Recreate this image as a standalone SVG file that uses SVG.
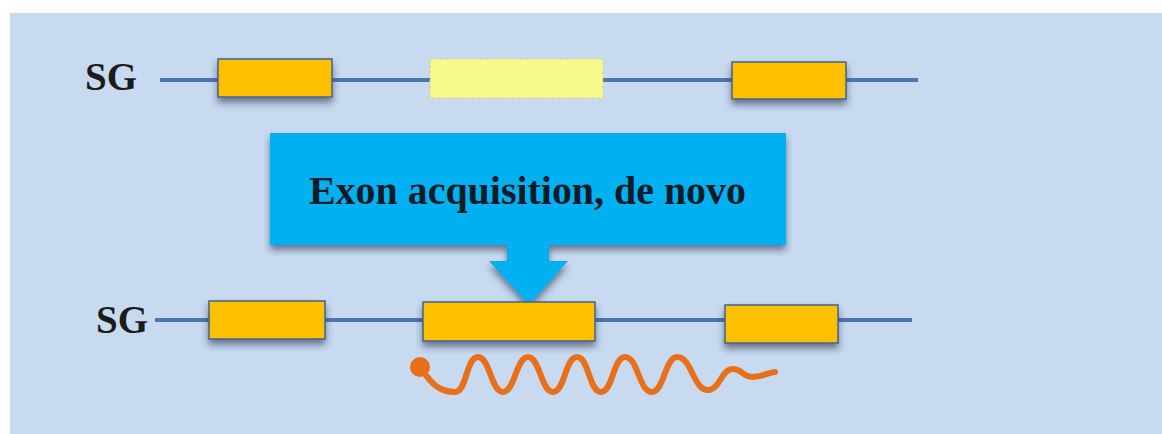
<svg xmlns="http://www.w3.org/2000/svg" width="1162" height="434" viewBox="0 0 1162 434">
<defs>
<filter id="sh" x="-20%" y="-30%" width="140%" height="180%">
<feDropShadow dx="0" dy="5" stdDeviation="3.5" flood-color="#25344d" flood-opacity="0.6"/>
</filter>
<style>
.bg{fill:#c7daf0}
.strand{stroke:#4a76b8;stroke-width:4;fill:none;stroke-linecap:butt}
.exon{fill:#ffc000;stroke:#44628f;stroke-width:1.5;filter:url(#sh)}
.ghost{fill:#f8f98c;stroke:#d9d27a;stroke-width:1;stroke-dasharray:3 2}
.lbl{font-family:"Liberation Serif",serif;font-weight:bold;font-size:39px;fill:#1c1c1c}
.call{fill:#00b0f0;filter:url(#sh)}
.ctext{font-family:"Liberation Serif",serif;font-weight:bold;font-size:39px;fill:#0e1c28}
.rna{fill:none;stroke:#e8701a;stroke-width:6;stroke-linecap:round;stroke-linejoin:round}
</style>
</defs>
<rect width="1162" height="434" fill="#ffffff"/>
<rect class="bg" x="10" y="13" width="1152" height="421"/>

<g id="connectors">
<line class="strand" x1="160" y1="80" x2="918" y2="80"/>
<line class="strand" x1="155" y1="320" x2="912" y2="320"/>
</g>

<g id="sg-top"><text class="lbl" x="85" y="90">SG</text></g>
<g id="exon-top-1"><rect class="exon" x="218" y="59" width="114" height="38"/></g>
<g id="exon-top-2"><rect class="ghost" x="430" y="59" width="173" height="39"/></g>
<g id="exon-top-3"><rect class="exon" x="732" y="62" width="114" height="37"/></g>

<g id="callout">
<path class="call" d="M270,133 H786 V245 H549 V261 H568 L529,305 L489,261 H507 V245 H270 Z"/>
<text class="ctext" x="309" y="204" textLength="437" lengthAdjust="spacingAndGlyphs">Exon acquisition, de novo</text>
</g>

<g id="sg-bottom"><text class="lbl" x="96" y="333">SG</text></g>
<g id="exon-bot-1"><rect class="exon" x="209" y="301" width="116" height="38"/></g>
<g id="exon-bot-2"><rect class="exon" x="423" y="302" width="172" height="39"/></g>
<g id="exon-bot-3"><rect class="exon" x="725" y="305" width="113" height="38"/></g>

<g id="transcript">
<circle cx="420" cy="367" r="10" fill="#e8701a"/>
<path class="rna" d="M420,367 C432,385 440,392 455,392 C467,392 466,357 478,357 C490,357 491,392 503,392 C515,392 516,357 528,357 C540,357 541,392 553,392 C565,392 565,357 577,357 C589,357 589,392 601,392 C613,392 613,357 625,357 C638,357 639,392 652,392 C664,392 665,357 677,357 C692,357 693,390 708,390 C720,390 721,369 733,369 C742,369 743,377 752,377 C762,377 766,373 775,372"/>
</g>
</svg>
